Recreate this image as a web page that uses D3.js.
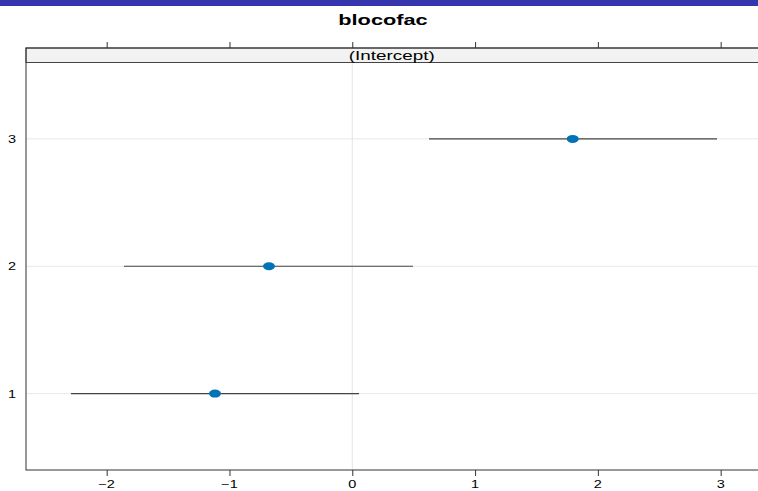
<!DOCTYPE html>
<html>
<head>
<meta charset="utf-8">
<script src="https://cdn.jsdelivr.net/npm/d3@7"></script>
<style>
  html, body { margin: 0; padding: 0; background: #fff; }
  svg { display: block; font-family: "Liberation Sans", Arial, sans-serif; }
</style>
</head>
<body>
<svg id="chart" width="758" height="491"></svg>
<script>
// Random-effect levels of blocofac: conditional mode and interval per level
const levels = ["1", "2", "3"];
const estimate = [-1.118, -0.678, 1.795];
const lower = [-2.291, -1.859, 0.625];
const upper = [0.055, 0.494, 2.970];
const xTicks = [-2, -1, 0, 1, 2, 3];
const panelTitle = "(Intercept)";
const mainTitle = "blocofac";

const W = 758, H = 491;
const left = 26, right = 757.5, frameRight = 760;
const stripTop = 48, stripBottom = 62.5, bottom = 470;
const stretch = 1.45; // wide glyph aspect

const svg = d3.select("#chart");

// header band
svg.append("rect").attr("x", 0).attr("y", 0).attr("width", W).attr("height", 6)
  .attr("fill", "#3535ad");

const x = d3.scaleLinear().domain([-2.657, 3.30]).range([left, right]);
const y = d3.scaleLinear().domain([0.4, 3.6]).range([bottom, stripBottom]);

function wideText(g, tx, ty, str, size, weight, anchor) {
  return g.append("text")
    .attr("transform", `translate(${tx},${ty}) scale(${stretch},1)`)
    .attr("text-anchor", anchor || "middle")
    .attr("font-size", size)
    .attr("font-weight", weight || "normal")
    .attr("fill", "#000")
    .text(str);
}

// title
wideText(svg, 383, 25, mainTitle, 15, "bold");

// grid
svg.append("g").selectAll("line").data(levels).join("line")
  .attr("x1", left).attr("x2", frameRight)
  .attr("y1", d => y(+d)).attr("y2", d => y(+d))
  .attr("stroke", "#e8e8e8").attr("stroke-width", 1);
svg.append("line")
  .attr("x1", x(0)).attr("x2", x(0))
  .attr("y1", stripBottom).attr("y2", bottom)
  .attr("stroke", "#e4e4e4").attr("stroke-width", 1);

// strip
svg.append("rect")
  .attr("x", left).attr("y", stripTop)
  .attr("width", frameRight - left).attr("height", stripBottom - stripTop)
  .attr("fill", "#f2f2f2").attr("stroke", "#444").attr("stroke-width", 1);
wideText(svg, (left + right) / 2, 60, panelTitle, 13);

// panel frame
svg.append("rect")
  .attr("x", left).attr("y", stripTop)
  .attr("width", frameRight - left).attr("height", bottom - stripTop)
  .attr("fill", "none").attr("stroke", "#333").attr("stroke-width", 1);

// bottom axis
const bAxis = svg.append("g").attr("transform", `translate(0,${bottom})`)
  .call(d3.axisBottom(x).tickValues(xTicks).tickSize(6).tickFormat(() => ""));
bAxis.select(".domain").remove();
bAxis.selectAll(".tick line").attr("stroke", "#333");
xTicks.forEach(t => wideText(svg, x(t), 488, d3.format("")(t).replace("-", "\u2212"), 10));

// top axis ticks
const tAxis = svg.append("g").attr("transform", `translate(0,${stripTop})`)
  .call(d3.axisTop(x).tickValues(xTicks).tickSize(6).tickFormat(() => ""));
tAxis.select(".domain").remove();
tAxis.selectAll(".tick line").attr("stroke", "#333");

// y labels
levels.forEach(l => wideText(svg, 12, y(+l) + 4, l, 10));

// intervals
svg.append("g").selectAll("line").data(levels).join("line")
  .attr("x1", (d, i) => x(lower[i])).attr("x2", (d, i) => x(upper[i]))
  .attr("y1", d => y(+d)).attr("y2", d => y(+d))
  .attr("stroke", "#444").attr("stroke-width", 1.1);

// points
svg.append("g").selectAll("ellipse").data(levels).join("ellipse")
  .attr("cx", (d, i) => x(estimate[i])).attr("cy", d => y(+d))
  .attr("rx", 6).attr("ry", 4)
  .attr("fill", "#0072b5");
</script>
</body>
</html>
